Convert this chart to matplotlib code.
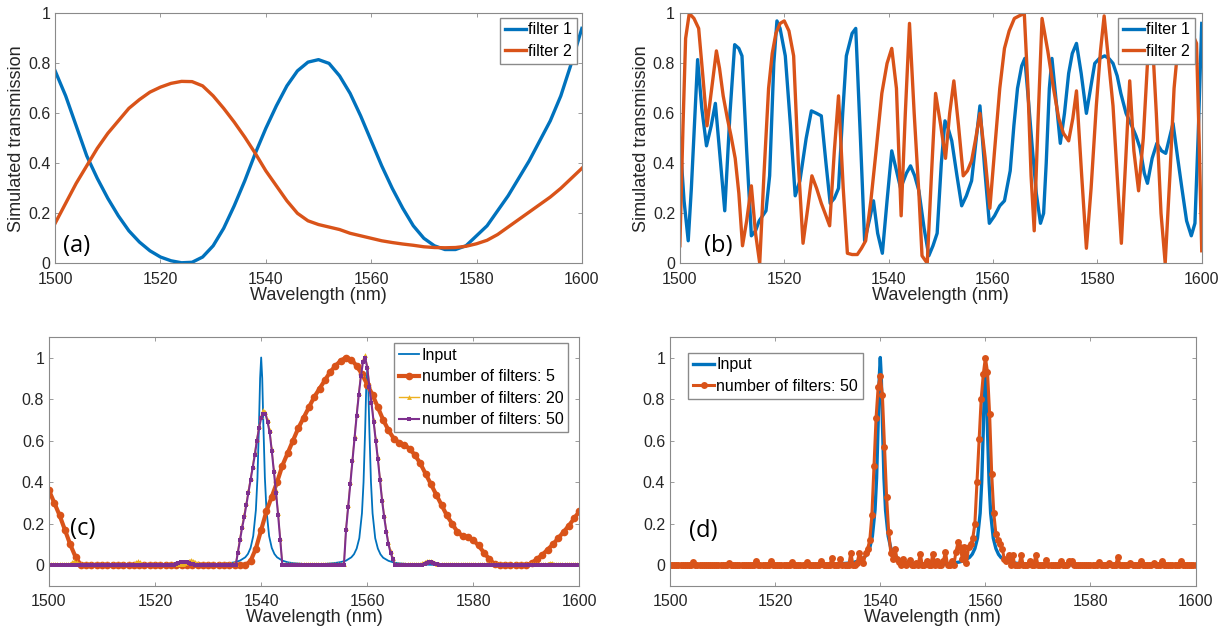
import numpy as np
import matplotlib
matplotlib.use("Agg")
import matplotlib.pyplot as plt
from matplotlib.ticker import FormatStrFormatter

plt.rcParams['font.family'] = ['Liberation Sans', 'DejaVu Sans']

BLUE = '#0072BD'
ORANGE = '#D95319'
YELLOW = '#EDB120'
PURPLE = '#7E2F8E'
TXT = '#262626'

# ---------------- (a) broadband filters, 2 nm sampling ----------------
wl_a = np.arange(1500, 1601, 2)
filter1_a = [0.77, 0.67, 0.55, 0.43, 0.34, 0.26, 0.19, 0.13, 0.085, 0.05,
             0.025, 0.01, 0.002, 0.004, 0.025, 0.07, 0.14, 0.23, 0.33, 0.44,
             0.54, 0.63, 0.71, 0.77, 0.805, 0.815, 0.80, 0.75, 0.68, 0.59,
             0.49, 0.39, 0.30, 0.22, 0.15, 0.10, 0.07, 0.055, 0.055, 0.07,
             0.11, 0.15, 0.21, 0.27, 0.34, 0.41, 0.49, 0.57, 0.67, 0.80,
             0.94]
filter2_a = [0.16, 0.24, 0.32, 0.39, 0.46, 0.52, 0.57, 0.62, 0.655, 0.685,
             0.705, 0.72, 0.728, 0.727, 0.71, 0.67, 0.62, 0.565, 0.505, 0.44,
             0.37, 0.31, 0.25, 0.20, 0.17, 0.155, 0.145, 0.135, 0.12, 0.11,
             0.10, 0.09, 0.083, 0.077, 0.072, 0.066, 0.063, 0.062, 0.063, 0.068,
             0.078, 0.092, 0.115, 0.145, 0.175, 0.205, 0.235, 0.265, 0.30, 0.34,
             0.38]

# ---------------- (b) narrow-band filters ----------------
wl_b1 = [1500.0, 1500.8, 1501.6, 1502.2, 1503.4, 1504.2, 1505.1, 1506.0, 1506.8, 1507.6,
         1508.6, 1509.6, 1510.5, 1511.3, 1511.9, 1512.8, 1513.7, 1514.5, 1515.2, 1516.5,
         1517.2, 1518.0, 1518.6, 1519.2, 1520.2, 1521.2, 1522.1, 1523.0, 1524.2, 1525.2,
         1526.2, 1527.1, 1528.0, 1528.8, 1529.6, 1530.4, 1531.2, 1531.9, 1533.0, 1533.7,
         1534.6, 1535.4, 1536.4, 1537.1, 1537.9, 1538.8, 1539.7, 1540.6, 1541.4, 1542.3,
         1543.4, 1544.2, 1545.0, 1545.8, 1546.8, 1547.7, 1548.5, 1549.3, 1550.1, 1550.8,
         1551.4, 1552.1, 1553.1, 1554.0, 1554.9, 1555.9, 1556.8, 1557.5, 1558.4, 1559.3,
         1560.3, 1561.3, 1562.2, 1563.3, 1564.0, 1564.7, 1565.5, 1566.1, 1566.8, 1567.5,
         1568.3, 1569.1, 1569.7, 1570.2, 1570.8, 1571.3, 1572.1, 1572.9, 1573.7, 1574.5,
         1575.2, 1576.0, 1576.9, 1577.9, 1578.7, 1579.5, 1580.4, 1581.4, 1582.2, 1583.0,
         1583.8, 1584.5, 1585.5, 1586.6, 1587.4, 1588.2, 1589.0, 1589.6, 1590.5, 1591.4,
         1592.3, 1593.1, 1593.8, 1594.5, 1595.4, 1596.2, 1597.1, 1598.0, 1598.7, 1599.3,
         1600.0]
filter1_b = [0.50, 0.25, 0.09, 0.30, 0.815, 0.62, 0.47, 0.55, 0.64, 0.45,
             0.21, 0.60, 0.875, 0.86, 0.83, 0.45, 0.11, 0.13, 0.17, 0.21,
             0.35, 0.80, 0.97, 0.94, 0.83, 0.55, 0.27, 0.33, 0.50, 0.61,
             0.60, 0.59, 0.40, 0.24, 0.26, 0.30, 0.60, 0.83, 0.92, 0.94,
             0.50, 0.09, 0.18, 0.25, 0.12, 0.04, 0.25, 0.45, 0.38, 0.30,
             0.36, 0.39, 0.35, 0.29, 0.14, 0.03, 0.07, 0.12, 0.40, 0.57,
             0.54, 0.49, 0.35, 0.23, 0.27, 0.33, 0.50, 0.63, 0.38, 0.16,
             0.19, 0.23, 0.25, 0.37, 0.55, 0.70, 0.79, 0.82, 0.65, 0.47,
             0.28, 0.16, 0.20, 0.40, 0.70, 0.82, 0.65, 0.48, 0.60, 0.76,
             0.84, 0.88, 0.76, 0.60, 0.70, 0.80, 0.82, 0.83, 0.82, 0.80,
             0.75, 0.68, 0.60, 0.55, 0.51, 0.46, 0.36, 0.32, 0.42, 0.48,
             0.45, 0.44, 0.50, 0.56, 0.42, 0.30, 0.17, 0.11, 0.16, 0.50,
             0.96]
wl_b2 = [1500.0, 1500.6, 1501.1, 1501.8, 1502.7, 1503.6, 1504.4, 1505.2, 1506.1, 1507.0,
         1507.6, 1508.3, 1509.1, 1509.8, 1510.6, 1511.3, 1512.0, 1512.8, 1513.7, 1514.5,
         1515.3, 1516.1, 1517.0, 1517.7, 1518.4, 1519.2, 1520.0, 1520.9, 1521.8, 1522.7,
         1523.6, 1524.5, 1525.3, 1526.2, 1527.1, 1528.0, 1528.7, 1529.6, 1530.4, 1531.3,
         1532.1, 1533.0, 1534.0, 1534.8, 1535.6, 1536.6, 1537.6, 1538.7, 1539.7, 1540.6,
         1541.5, 1542.4, 1543.2, 1544.0, 1544.9, 1545.8, 1546.4, 1547.4, 1548.2, 1549.0,
         1550.0, 1550.9, 1551.7, 1552.5, 1553.4, 1554.3, 1555.1, 1555.9, 1556.7, 1557.5,
         1558.5, 1559.4, 1560.3, 1561.3, 1562.2, 1563.1, 1564.1, 1565.0, 1566.0, 1566.7,
         1567.3, 1567.9, 1568.6, 1569.4, 1570.5, 1571.6, 1572.6, 1573.5, 1574.5, 1575.3,
         1576.0, 1577.0, 1577.9, 1578.8, 1579.8, 1580.6, 1581.3, 1582.1, 1583.0, 1583.8,
         1584.6, 1585.4, 1586.2, 1587.0, 1587.9, 1588.8, 1589.6, 1590.4, 1591.3, 1592.2,
         1593.0, 1593.9, 1594.7, 1595.5, 1596.4, 1597.3, 1598.2, 1599.0, 1599.5, 1600.0]
filter2_b = [0.07, 0.55, 0.90, 1.00, 0.98, 0.94, 0.75, 0.55, 0.70, 0.85,
             0.78, 0.67, 0.58, 0.51, 0.42, 0.28, 0.07, 0.17, 0.31, 0.12,
             0.00, 0.35, 0.70, 0.84, 0.92, 0.96, 0.97, 0.93, 0.83, 0.40,
             0.08, 0.22, 0.35, 0.30, 0.24, 0.19, 0.15, 0.45, 0.67, 0.30,
             0.04, 0.035, 0.035, 0.06, 0.09, 0.25, 0.45, 0.68, 0.80, 0.86,
             0.70, 0.19, 0.60, 0.96, 0.60, 0.28, 0.03, 0.00, 0.35, 0.68,
             0.55, 0.42, 0.60, 0.73, 0.55, 0.35, 0.37, 0.41, 0.50, 0.60,
             0.42, 0.22, 0.45, 0.70, 0.86, 0.93, 0.98, 0.99, 1.00, 0.70,
             0.35, 0.13, 0.55, 0.98, 0.85, 0.70, 0.58, 0.52, 0.49, 0.58,
             0.69, 0.35, 0.06, 0.30, 0.63, 0.85, 0.99, 0.82, 0.63, 0.35,
             0.08, 0.40, 0.73, 0.45, 0.29, 0.50, 0.80, 0.95, 0.60, 0.20,
             0.00, 0.35, 0.70, 0.88, 0.95, 0.95, 0.92, 0.88, 0.50, 0.05]

# ---------------- input spectrum (c) and (d) ----------------
wl_in = [1500, 1510, 1520, 1528, 1532, 1534, 1535, 1536, 1537, 1537.5,
         1538, 1538.5, 1539, 1539.3, 1539.6, 1539.8, 1540, 1540.2, 1540.4, 1540.7,
         1541, 1541.5, 1542, 1542.5, 1543, 1544, 1545, 1546, 1548, 1550,
         1552, 1554, 1555, 1556, 1557, 1557.5, 1558, 1558.5, 1559, 1559.3,
         1559.6, 1559.8, 1560, 1560.2, 1560.4, 1560.7, 1561, 1561.5, 1562, 1562.5,
         1563, 1564, 1565, 1566, 1568, 1572, 1580, 1590, 1600]
input_sig = [0.0, 0.0005, 0.001, 0.0025, 0.006, 0.01, 0.014, 0.022, 0.038, 0.054,
             0.083, 0.14, 0.265, 0.42, 0.69, 0.90, 1.0, 0.90, 0.69, 0.42,
             0.265, 0.14, 0.083, 0.054, 0.038, 0.022, 0.014, 0.01, 0.006, 0.005,
             0.006, 0.011, 0.015, 0.022, 0.038, 0.053, 0.08, 0.13, 0.25, 0.40,
             0.65, 0.85, 0.94, 0.85, 0.65, 0.40, 0.25, 0.13, 0.08, 0.052,
             0.036, 0.021, 0.013, 0.009, 0.005, 0.002, 0.001, 0.0005, 0.0]

# ---------------- (c) output for 5 filters, 1 nm sampling ----------------
wl_c5 = np.arange(1500, 1601, 1)
out_5 = [0.36, 0.30, 0.24, 0.17, 0.10, 0.04, 0, 0, 0, 0,
         0, 0, 0, 0, 0, 0, 0, 0, 0, 0,
         0, 0, 0, 0, 0, 0, 0, 0, 0, 0,
         0, 0, 0, 0, 0, 0, 0, 0, 0.02, 0.08,
         0.17, 0.26, 0.33, 0.40, 0.48, 0.54, 0.60, 0.66, 0.71, 0.76,
         0.81, 0.85, 0.89, 0.93, 0.96, 0.985, 1.0, 0.99, 0.96, 0.92,
         0.87, 0.82, 0.76, 0.70, 0.65, 0.61, 0.59, 0.58, 0.56, 0.53,
         0.49, 0.44, 0.39, 0.34, 0.29, 0.24, 0.20, 0.16, 0.14, 0.135,
         0.12, 0.095, 0.06, 0.03, 0.005, 0, 0, 0, 0, 0,
         0, 0.01, 0.03, 0.05, 0.075, 0.10, 0.13, 0.16, 0.19, 0.225,
         0.26]

# ---------------- 0.4 nm sampled outputs (c: 20 and 50 filters, d: 50 filters) ----------------
wl_fine = np.linspace(1500, 1600, 251)
out_50 = ([0, 0, 0, 0, 0, 0, 0, 0, 0, 0, 0, 0, 0, 0, 0, 0, 0, 0, 0, 0, 0, 0, 0, 0, 0] +
          [0, 0, 0, 0, 0, 0, 0, 0, 0, 0, 0, 0, 0, 0, 0, 0, 0, 0, 0, 0, 0, 0, 0, 0, 0] +
          [0, 0, 0, 0, 0, 0, 0, 0, 0, 0, 0.005, 0.01, 0.013, 0.015, 0.015, 0.013, 0.01, 0.007, 0.004, 0.002, 0, 0, 0, 0, 0] +
          [0, 0, 0, 0, 0, 0, 0, 0, 0, 0, 0, 0, 0, 0, 0.06, 0.12, 0.18, 0.23, 0.29, 0.35, 0.41, 0.47, 0.53, 0.60, 0.66] +
          [0.71, 0.73, 0.73, 0.69, 0.64, 0.55, 0.45, 0.35, 0.24, 0.12, 0, 0, 0, 0, 0, 0, 0, 0, 0, 0, 0, 0, 0, 0, 0] +
          [0, 0, 0, 0, 0, 0, 0, 0, 0, 0, 0, 0, 0, 0, 0, 0.17, 0.28, 0.39, 0.50, 0.61, 0.72, 0.82, 0.91, 0.98, 1.0] +
          [0.95, 0.86, 0.78, 0.69, 0.60, 0.51, 0.41, 0.31, 0.23, 0.16, 0.10, 0.06, 0.03, 0, 0, 0, 0, 0, 0, 0, 0, 0, 0, 0, 0] +
          [0, 0.003, 0.008, 0.012, 0.015, 0.015, 0.012, 0.008, 0.004, 0, 0, 0, 0, 0, 0, 0, 0, 0, 0, 0, 0, 0, 0, 0, 0] +
          [0, 0, 0, 0, 0, 0, 0, 0, 0, 0, 0, 0, 0, 0, 0, 0, 0, 0, 0, 0, 0, 0, 0, 0, 0] +
          [0, 0, 0, 0, 0, 0, 0, 0, 0, 0, 0, 0, 0, 0, 0, 0, 0, 0, 0, 0, 0, 0, 0, 0, 0] +
          [0])
out_20 = ([0.005, 0.005, 0.005, 0.005, 0.005, 0.005, 0.005, 0.005, 0.005, 0.005, 0.008, 0.014, 0.018, 0.014, 0.008, 0.005, 0.005, 0.005, 0.005, 0.005, 0.005, 0.005, 0.005, 0.005, 0.005] +
          [0.005, 0.005, 0.005, 0.005, 0.005, 0.005, 0.005, 0.005, 0.005, 0.005, 0.005, 0.005, 0.005, 0.005, 0.005, 0.008, 0.014, 0.018, 0.014, 0.008, 0.005, 0.005, 0.005, 0.005, 0.005] +
          [0.005, 0.005, 0.005, 0.005, 0.005, 0.005, 0.005, 0.005, 0.005, 0.005, 0.005, 0.005, 0.005, 0.005, 0.01, 0.016, 0.022, 0.024, 0.022, 0.016, 0.01, 0.005, 0.005, 0.005, 0.005] +
          [0.005, 0.005, 0.005, 0.005, 0.005, 0.005, 0.005, 0.005, 0.005, 0.005, 0.005, 0.005, 0.005, 0.005, 0.07, 0.13, 0.19, 0.245, 0.30, 0.36, 0.42, 0.48, 0.545, 0.61, 0.67] +
          [0.72, 0.745, 0.74, 0.70, 0.65, 0.56, 0.46, 0.36, 0.25, 0.13, 0.005, 0.005, 0.005, 0.005, 0.005, 0.005, 0.005, 0.005, 0.005, 0.005, 0.005, 0.005, 0.005, 0.005, 0.005] +
          [0.005, 0.005, 0.005, 0.005, 0.005, 0.005, 0.005, 0.005, 0.005, 0.005, 0.005, 0.005, 0.005, 0.005, 0.005, 0.18, 0.29, 0.40, 0.51, 0.62, 0.73, 0.83, 0.92, 0.99, 1.01] +
          [0.96, 0.87, 0.79, 0.70, 0.61, 0.52, 0.42, 0.32, 0.24, 0.17, 0.11, 0.07, 0.035, 0.005, 0.005, 0.005, 0.005, 0.005, 0.005, 0.005, 0.005, 0.005, 0.005, 0.005, 0.005] +
          [0.005, 0.01, 0.015, 0.02, 0.022, 0.02, 0.015, 0.01, 0.005, 0.005, 0.005, 0.005, 0.005, 0.005, 0.005, 0.005, 0.005, 0.005, 0.005, 0.005, 0.005, 0.005, 0.005, 0.005, 0.005] +
          [0.005, 0.005, 0.005, 0.005, 0.005, 0.005, 0.005, 0.005, 0.005, 0.005, 0.005, 0.005, 0.005, 0.005, 0.005, 0.005, 0.005, 0.005, 0.005, 0.005, 0.005, 0.005, 0.005, 0.005, 0.005] +
          [0.005, 0.005, 0.005, 0.005, 0.005, 0.005, 0.005, 0.005, 0.005, 0.005, 0.008, 0.012, 0.012, 0.008, 0.005, 0.005, 0.005, 0.005, 0.005, 0.005, 0.005, 0.005, 0.005, 0.005, 0.005] +
          [0.005])
out_50d = ([0, 0, 0, 0, 0, 0, 0, 0, 0, 0, 0, 0.015, 0, 0, 0, 0, 0, 0, 0, 0, 0, 0, 0, 0, 0] +
           [0, 0, 0, 0.01, 0, 0, 0, 0, 0, 0, 0, 0, 0, 0, 0, 0, 0.02, 0, 0, 0, 0, 0, 0, 0.02, 0] +
           [0, 0, 0, 0, 0, 0, 0, 0, 0.015, 0, 0, 0, 0, 0, 0, 0.015, 0, 0, 0, 0, 0, 0, 0.02, 0, 0] +
           [0, 0, 0.035, 0, 0, 0, 0.03, 0, 0, 0, 0, 0.06, 0, 0, 0.01, 0.06, 0.03, 0.01, 0.06, 0.08, 0.12, 0.24, 0.48, 0.71, 0.86] +
           [0.91, 0.82, 0.57, 0.33, 0.16, 0.06, 0.03, 0.08, 0.03, 0.015, 0, 0.03, 0, 0.01, 0.025, 0, 0, 0.01, 0, 0.055, 0, 0, 0.02, 0, 0] +
           [0.055, 0, 0.02, 0, 0, 0.02, 0.065, 0, 0, 0.02, 0, 0.065, 0.11, 0.09, 0.03, 0.09, 0.01, 0.09, 0.10, 0.13, 0.20, 0.40, 0.61, 0.80, 0.92] +
           [1.0, 0.93, 0.73, 0.44, 0.25, 0.15, 0.12, 0.10, 0.08, 0.03, 0.02, 0.05, 0, 0.05, 0, 0, 0, 0.05, 0, 0, 0, 0.02, 0, 0, 0.05] +
           [0, 0, 0, 0, 0.025, 0, 0, 0, 0, 0, 0, 0.02, 0, 0, 0, 0.02, 0.02, 0, 0, 0, 0, 0, 0, 0, 0] +
           [0, 0, 0, 0, 0.015, 0, 0, 0, 0, 0.01, 0, 0, 0, 0.04, 0, 0, 0, 0, 0, 0.01, 0, 0, 0, 0, 0.02] +
           [0, 0, 0, 0, 0, 0.01, 0, 0, 0, 0.02, 0, 0, 0, 0, 0, 0, 0, 0, 0.02, 0, 0, 0, 0, 0, 0] +
           [0])


def style_axes(ax, ylim, yticks):
    ax.set_xlim(1500, 1600)
    ax.set_ylim(*ylim)
    ax.set_xticks(np.arange(1500, 1601, 20))
    ax.set_yticks(yticks)
    ax.yaxis.set_major_formatter(FormatStrFormatter('%g'))
    ax.tick_params(direction='in', top=True, right=True, length=3, width=0.6,
                   colors='#8a8a8a', labelcolor=TXT, labelsize=11.5)
    ax.tick_params(axis='x', pad=6)
    for s in ax.spines.values():
        s.set_color('#8a8a8a')
        s.set_linewidth(0.8)
    ax.set_xlabel('Wavelength (nm)', fontsize=13, color=TXT, labelpad=0)


def panel_label(ax, txt, x, y):
    ax.text(x, y, txt, transform=ax.transAxes, fontsize=17, ha='center', va='center',
            family=['Open Sans', 'DejaVu Sans'], color='black')


leg_kw = dict(fontsize=11.5, frameon=True, fancybox=False, edgecolor='#8a8a8a',
              framealpha=1, borderpad=0.3, labelspacing=0.4, handlelength=1.3,
              handletextpad=0.15, borderaxespad=0)

fig = plt.figure(figsize=(12.25, 6.39), dpi=100)

# (a)
ax = fig.add_axes([0.045, 0.588, 0.430, 0.391])
ax.plot(wl_a, filter1_a, color=BLUE, lw=2.4, label='filter 1')
ax.plot(wl_a, filter2_a, color=ORANGE, lw=2.4, label='filter 2')
style_axes(ax, (0, 1), np.arange(0, 1.01, 0.2))
ax.set_ylabel('Simulated transmission', fontsize=13, color=TXT, labelpad=2)
ax.legend(loc='upper right', bbox_to_anchor=(0.99, 0.983), **leg_kw)
panel_label(ax, '(a)', 0.04, 0.07)

# (b)
ax = fig.add_axes([0.555, 0.588, 0.426, 0.391])
ax.plot(wl_b1, filter1_b, color=BLUE, lw=2.4, label='filter 1')
ax.plot(wl_b2, filter2_b, color=ORANGE, lw=2.4, label='filter 2')
style_axes(ax, (0, 1), np.arange(0, 1.01, 0.2))
ax.set_ylabel('Simulated transmission', fontsize=13, color=TXT, labelpad=2)
ax.legend(loc='upper right', bbox_to_anchor=(0.987, 0.983), **leg_kw)
panel_label(ax, '(b)', 0.073, 0.07)

# (c)
ax = fig.add_axes([0.040, 0.083, 0.433, 0.39])
ax.plot(wl_in, input_sig, color=BLUE, lw=1.3, label='Input')
ax.plot(wl_c5, out_5, color=ORANGE, lw=3.0, marker='o', ms=5.5, mew=0,
        label='number of filters: 5')
ax.plot(wl_fine, out_20, color=YELLOW, lw=1.0, marker='^', ms=3.5, mew=0,
        label='number of filters: 20')
ax.plot(wl_fine, out_50, color=PURPLE, lw=1.5, marker='s', ms=3, mew=0,
        label='number of filters: 50')
style_axes(ax, (-0.1, 1.1), np.arange(0, 1.01, 0.2))
ax.legend(loc='upper right', bbox_to_anchor=(0.979, 0.974), **leg_kw)
panel_label(ax, '(c)', 0.064, 0.228)

# (d)
ax = fig.add_axes([0.547, 0.083, 0.429, 0.39])
ax.plot(wl_in, input_sig, color=BLUE, lw=2.4, label='Input')
ax.plot(wl_fine, out_50d, color=ORANGE, lw=2.2, marker='o', ms=5, mew=0,
        label='number of filters: 50')
style_axes(ax, (-0.1, 1.1), np.arange(0, 1.01, 0.2))
ax.legend(loc='upper left', bbox_to_anchor=(0.035, 0.936), **leg_kw)
panel_label(ax, '(d)', 0.063, 0.22)

fig.savefig('out.png', dpi=100)
